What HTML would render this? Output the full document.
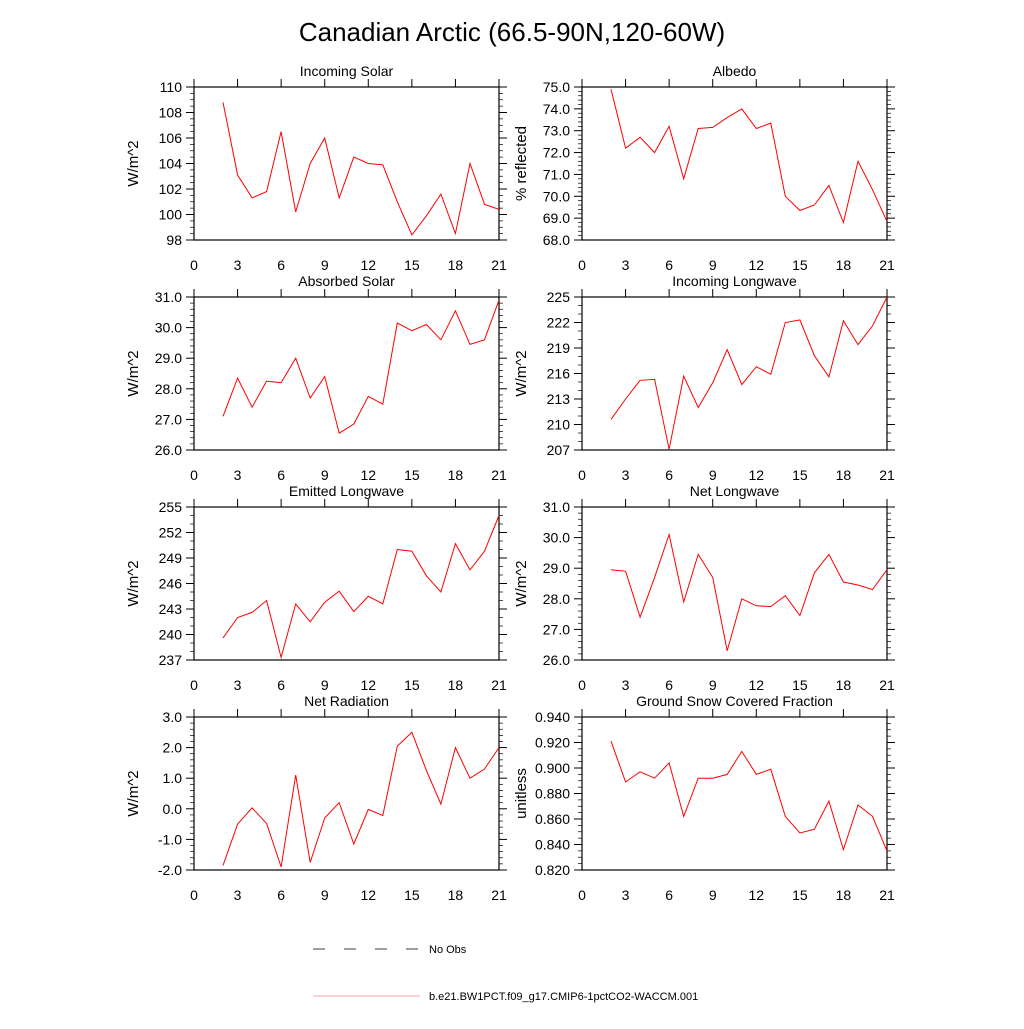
<!DOCTYPE html>
<html><head><meta charset="utf-8"><style>
body{margin:0;background:#fff;}
svg text{font-family:"Liberation Sans",sans-serif;fill:#000;}
</style></head><body>
<svg id="chart" width="1024" height="1024">
<text x="512" y="41" font-size="26" text-anchor="middle">Canadian Arctic (66.5-90N,120-60W)</text>
<g>
<line x1="313" y1="949" x2="420" y2="949" stroke="#000" stroke-width="0.8" stroke-dasharray="12,19"/>
<text x="429" y="953" font-size="11">No Obs</text>
<line x1="313" y1="996" x2="420" y2="996" stroke="#f08080" stroke-width="0.8"/>
<text x="429" y="1000" font-size="11">b.e21.BW1PCT.f09_g17.CMIP6-1pctCO2-WACCM.001</text>
</g>
</svg>
<script>
const years = [2,3,4,5,6,7,8,9,10,11,12,13,14,15,16,17,18,19,20,21];
const xTicks = [0,3,6,9,12,15,18,21];
const incomingSolar = [108.8,103.1,101.3,101.8,106.5,100.2,104.0,106.0,101.3,104.5,104.0,103.9,101.0,98.4,99.9,101.6,98.5,104.0,100.8,100.4];
const albedo = [74.9,72.2,72.7,72.0,73.2,70.8,73.1,73.15,73.6,74.0,73.1,73.35,70.0,69.35,69.6,70.5,68.8,71.6,70.3,68.85];
const absorbedSolar = [27.1,28.35,27.4,28.25,28.2,29.0,27.7,28.4,26.55,26.85,27.75,27.5,30.15,29.9,30.1,29.6,30.55,29.45,29.6,30.9];
const incomingLW = [210.6,213.0,215.2,215.3,207.1,215.7,212.0,214.9,218.8,214.7,216.8,215.9,222.0,222.3,218.1,215.6,222.2,219.4,221.6,225.0];
const emittedLW = [239.6,242.0,242.6,244.0,237.3,243.6,241.5,243.8,245.1,242.7,244.5,243.6,250.0,249.8,246.9,245.0,250.7,247.6,249.8,254.0];
const netLW = [28.95,28.9,27.4,28.7,30.1,27.9,29.45,28.7,26.3,28.0,27.77,27.75,28.1,27.45,28.85,29.45,28.55,28.45,28.3,28.95];
const netRad = [-1.85,-0.5,0.03,-0.48,-1.9,1.1,-1.75,-0.3,0.2,-1.15,-0.02,-0.22,2.05,2.5,1.25,0.15,2.0,1.0,1.3,2.0];
const snowFrac = [0.921,0.889,0.897,0.892,0.904,0.862,0.892,0.892,0.895,0.913,0.895,0.899,0.862,0.849,0.852,0.874,0.836,0.871,0.862,0.835];
const panels = [
 {name:'incoming-solar',title:'Incoming Solar',yt:'W/m^2',data:incomingSolar,min:98,max:110,step:2,dec:0,minor:4,col:0,row:0},
 {name:'albedo',title:'Albedo',yt:'% reflected',data:albedo,min:68,max:75,step:1,dec:1,minor:5,col:1,row:0},
 {name:'absorbed-solar',title:'Absorbed Solar',yt:'W/m^2',data:absorbedSolar,min:26,max:31,step:1,dec:1,minor:5,col:0,row:1},
 {name:'incoming-longwave',title:'Incoming Longwave',yt:'W/m^2',data:incomingLW,min:207,max:225,step:3,dec:0,minor:3,col:1,row:1},
 {name:'emitted-longwave',title:'Emitted Longwave',yt:'W/m^2',data:emittedLW,min:237,max:255,step:3,dec:0,minor:3,col:0,row:2},
 {name:'net-longwave',title:'Net Longwave',yt:'W/m^2',data:netLW,min:26,max:31,step:1,dec:1,minor:5,col:1,row:2},
 {name:'net-radiation',title:'Net Radiation',yt:'W/m^2',data:netRad,min:-2,max:3,step:1,dec:1,minor:5,col:0,row:3},
 {name:'snow-fraction',title:'Ground Snow Covered Fraction',yt:'unitless',data:snowFrac,min:0.82,max:0.94,step:0.02,dec:3,minor:4,col:1,row:3}
];
const NS='http://www.w3.org/2000/svg';
const svg=document.getElementById('chart');
function mk(tag,attrs,parent){const e=document.createElementNS(NS,tag);for(const k in attrs)e.setAttribute(k,attrs[k]);parent.appendChild(e);return e;}
panels.forEach(p=>{
 const L=p.col?582:194, R=L+305, T=[87,297,507,717][p.row], B=T+153;
 const g=mk('g',{},svg);
 
 
 const xs=v=>L+(v/21)*(R-L);
 const ys=v=>B-(v-p.min)/(p.max-p.min)*(B-T);
 const fr=mk('rect',{x:L,y:T,width:R-L,height:B-T,fill:'none',stroke:'#000','stroke-width':1.2},g);
 
 
 const t=mk('text',{x:(L+R)/2,y:T-11,'font-size':14,'text-anchor':'middle'},g);t.textContent=p.title;
 
 
 const n=Math.round((p.max-p.min)/p.step);
 for(let i=0;i<=n;i++){
  const v=p.min+i*p.step, y=ys(v);
  mk('line',{x1:L-8,y1:y,x2:L,y2:y,stroke:'#000'},g);
  mk('line',{x1:R,y1:y,x2:R+8,y2:y,stroke:'#000'},g);
  const lb=mk('text',{x:L-12,y:y+5,'font-size':14,'text-anchor':'end'},g);lb.textContent=v.toFixed(p.dec);
  
  
  if(i<n)for(let m=1;m<p.minor;m++){const ym=ys(v+m*p.step/p.minor);
   mk('line',{x1:L-4,y1:ym,x2:L,y2:ym,stroke:'#000','stroke-width':0.7},g);
   mk('line',{x1:R,y1:ym,x2:R+4,y2:ym,stroke:'#000','stroke-width':0.7},g);}
 }
 xTicks.forEach(v=>{const x=xs(v);
  mk('line',{x1:x,y1:T-8,x2:x,y2:T,stroke:'#000'},g);
  const lb=mk('text',{x:x,y:B+30,'font-size':14,'text-anchor':'middle'},g);lb.textContent=v;
  
  
 });
 const yt=mk('text',{x:0,y:0,'font-size':15,'text-anchor':'middle',transform:`translate(${L-56},${(T+B)/2}) rotate(-90)`},g);yt.textContent=p.yt;
 
 
 const pts=years.map((yr,i)=>xs(yr).toFixed(1)+','+ys(p.data[i]).toFixed(1)).join(' ');
 const pl=mk('polyline',{points:pts,fill:'none',stroke:'#ff0000','stroke-width':1},g);
 
 
});
</script>
</body></html>
